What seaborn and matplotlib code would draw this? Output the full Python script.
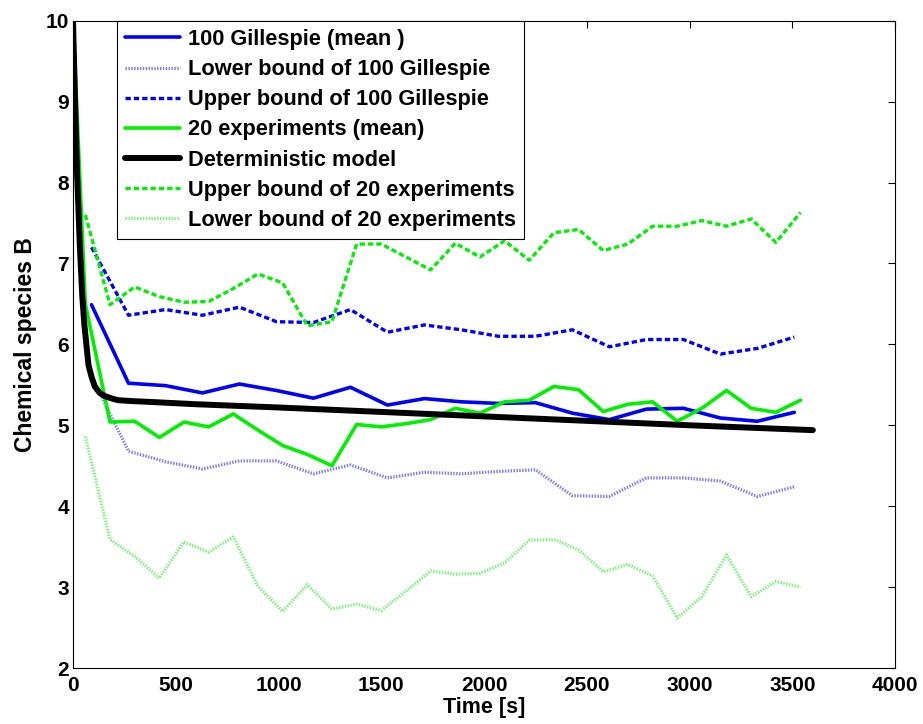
import numpy as np
import pandas as pd
import matplotlib
matplotlib.use('Agg')
import matplotlib.pyplot as plt
import seaborn as sns

# --- data ---
gil_t = [90, 270, 450, 630, 810, 990, 1170, 1350, 1530, 1710,
         1890, 2070, 2250, 2430, 2610, 2790, 2970, 3150, 3330, 3510]
gil_mean = [6.49, 5.52, 5.49, 5.40, 5.51, 5.43, 5.335, 5.47, 5.25, 5.33,
            5.29, 5.27, 5.28, 5.15, 5.07, 5.20, 5.21, 5.09, 5.05, 5.16]
gil_upper = [7.20, 6.36, 6.43, 6.36, 6.46, 6.28, 6.27, 6.43, 6.15, 6.24,
             6.18, 6.10, 6.10, 6.18, 5.97, 6.06, 6.06, 5.88, 5.95, 6.09]
gil_lower = [5.60, 4.68, 4.55, 4.46, 4.56, 4.56, 4.40, 4.51, 4.35, 4.42,
             4.40, 4.43, 4.45, 4.13, 4.12, 4.35, 4.35, 4.31, 4.12, 4.24]

exp_t = [0, 60, 180, 300, 420, 540, 660, 780, 900, 1020, 1140, 1260, 1380,
         1500, 1620, 1740, 1860, 1980, 2100, 2220, 2340, 2460, 2580, 2700,
         2820, 2940, 3060, 3180, 3300, 3420, 3540]
exp_mean = [10.0, 6.50, 5.04, 5.05, 4.85, 5.04, 4.98, 5.14, 4.94, 4.75, 4.64,
            4.50, 5.01, 4.98, 5.02, 5.07, 5.21, 5.15, 5.29, 5.31, 5.48, 5.44,
            5.17, 5.26, 5.29, 5.05, 5.21, 5.43, 5.21, 5.16, 5.31]
exp_upper = [np.nan, 7.60, 6.49, 6.71, 6.59, 6.52, 6.53, 6.69, 6.87, 6.76,
             6.23, 6.28, 7.24, 7.24, 7.08, 6.92, 7.25, 7.08, 7.28, 7.04, 7.38,
             7.42, 7.16, 7.24, 7.46, 7.46, 7.53, 7.46, 7.55, 7.26, 7.63]
exp_lower = [np.nan, 4.86, 3.59, 3.38, 3.11, 3.56, 3.43, 3.62, 3.01, 2.70,
             3.03, 2.73, 2.79, 2.71, 2.95, 3.20, 3.16, 3.17, 3.30, 3.58, 3.59,
             3.46, 3.19, 3.28, 3.14, 2.62, 2.88, 3.40, 2.88, 3.07, 3.00]

det_t = [0, 10, 20, 33, 45, 55, 65, 75, 90, 106, 130, 155, 190, 220, 280,
         365, 600, 1000, 1500, 2000, 2500, 3000, 3600]
det_val = [10.0, 9.0, 8.1, 7.23, 6.6, 6.25, 6.0, 5.75, 5.6, 5.48, 5.40, 5.36,
           5.33, 5.31, 5.30, 5.29, 5.26, 5.22, 5.165, 5.11, 5.055, 5.0, 4.94]

# --- styling ---
sns.set_style('white')
plt.rcParams['font.family'] = ['Liberation Sans', 'DejaVu Sans']
plt.rcParams['font.weight'] = 'bold'
plt.rcParams['text.color'] = 'black'
plt.rcParams['axes.labelcolor'] = 'black'
plt.rcParams['xtick.color'] = 'black'
plt.rcParams['ytick.color'] = 'black'

fig = plt.figure(figsize=(9.23, 7.24), dpi=100)
ax = fig.add_axes([0.0791, 0.0773, 0.8906, 0.8941])

dash = (0, (1.6, 0.9))
dot = (0, (0.45, 0.45))
green = '#00f000'

series = [
    (gil_t, gil_mean, '100 Gillespie (mean )', '#0000ff', '-', 2.6),
    (gil_t, gil_lower, 'Lower bound of 100 Gillespie', '#7b7bff', dot, 2.3),
    (gil_t, gil_upper, 'Upper bound of 100 Gillespie', '#0000ff', dash, 2.4),
    (exp_t, exp_mean, '20 experiments (mean)', green, '-', 2.6),
    (det_t, det_val, 'Deterministic model', 'black', '-', 4.3),
    (exp_t, exp_upper, 'Upper bound of 20 experiments', green, dash, 2.4),
    (exp_t, exp_lower, 'Lower bound of 20 experiments', '#7cf57c', dot, 2.3),
]

for t, v, name, col, ls, lw in series:
    df = pd.DataFrame({'t': t, 'v': v}).dropna()
    sns.lineplot(data=df, x='t', y='v', ax=ax, color=col, linestyle=ls,
                 linewidth=lw, label=name, sort=False, estimator=None)

ax.set_xlim(0, 4000)
ax.set_ylim(2, 10)
ax.set_xticks(range(0, 4001, 500))
ax.set_yticks(range(2, 11))
ax.tick_params(direction='in', length=5, width=0.8, top=True, right=True,
               labelsize=15, pad=3, colors='black')
ax.tick_params(axis='x', pad=6)
for lab in ax.get_xticklabels() + ax.get_yticklabels():
    lab.set_fontweight('bold')
for sp in ax.spines.values():
    sp.set_color('black')
    sp.set_linewidth(0.8)

ax.set_xlabel('Time [s]', fontsize=15.5, fontweight='bold', labelpad=1,
              color='black')
ax.set_ylabel('Chemical species B', fontsize=16.5, fontweight='bold',
              labelpad=6, color='black')

leg = ax.legend(loc='upper left', bbox_to_anchor=(0.0535, 1.0),
                borderaxespad=0, fancybox=False, framealpha=1,
                edgecolor='black', handlelength=2.5, handletextpad=0.36,
                labelspacing=0.42, borderpad=0.38,
                prop={'size': 15.7, 'weight': 'bold'})
leg.get_frame().set_linewidth(0.8)
for txt in leg.get_texts():
    txt.set_color('black')

plt.savefig('out.png', dpi=100)
